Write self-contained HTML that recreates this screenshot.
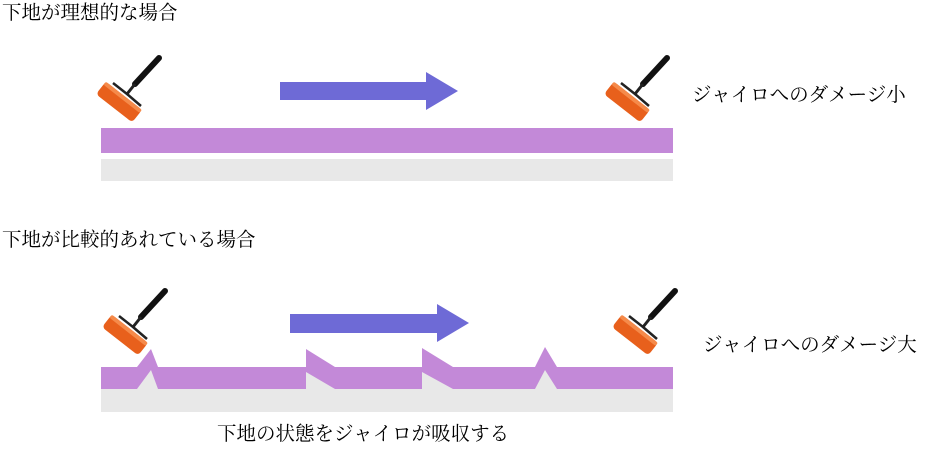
<!DOCTYPE html>
<html><head><meta charset="utf-8"><style>
body{margin:0;background:#fff;width:933px;height:449px;overflow:hidden}
svg{position:absolute;left:0;top:0}
text{font-family:"Liberation Serif","Noto Serif CJK SC","Noto Sans CJK JP",serif;font-size:19.5px;fill:#000}
</style></head><body>
<svg width="933" height="449" viewBox="0 0 933 449">
<defs>
<g id="roller">
<line x1="64" y1="2" x2="40" y2="28" stroke="#111" stroke-width="6" stroke-linecap="round"/>
<line x1="40" y1="28" x2="32" y2="38" stroke="#222" stroke-width="3"/>
<path d="M32 38 L18 27 M32 38 L46 50" stroke="#222" stroke-width="2.5" fill="none"/>
<g transform="translate(24,46) rotate(38)">
<rect x="-23" y="-8" width="46" height="16" rx="4" fill="#e8601c"/>
<rect x="-23" y="-8" width="46" height="4" rx="2" fill="#f58a4a"/>
</g>
</g>
</defs>
<text x="2" y="19">下地が理想的な場合</text>
<text x="2" y="246">下地が比較的あれている場合</text>
<text x="692" y="101">ジャイロへのダメージ小</text>
<text x="703" y="351">ジャイロへのダメージ大</text>
<text x="217" y="440">下地の状態をジャイロが吸収する</text>
<rect x="101" y="128" width="572" height="25" fill="#c389d8"/>
<rect x="101" y="159" width="572" height="22" fill="#e8e8e8"/>
<polygon points="280,82 426,82 426,72 458,91 426,110 426,100 280,100" fill="#6e6ad6"/>
<polygon points="290,314 437,314 437,304 469,323 437,342 437,333 290,333" fill="#6e6ad6"/>
<rect x="101" y="367" width="572" height="45" fill="#e8e8e8"/>
<polygon fill="#c389d8" points="101,367 137,367 151,349 158,367 306,367 306,349 335,367 422,367 422,348 453,367 535,367 545,347 557,367 673,367 673,389 557,389 545,370 535,389 453,389 422,372 422,389 335,389 306,372 306,389 158,389 151,370 137,389 101,389"/>
<use href="#roller" x="95" y="56"/>
<use href="#roller" x="603" y="56"/>
<use href="#roller" x="101" y="289"/>
<use href="#roller" x="611" y="289"/>
</svg>
</body></html>
